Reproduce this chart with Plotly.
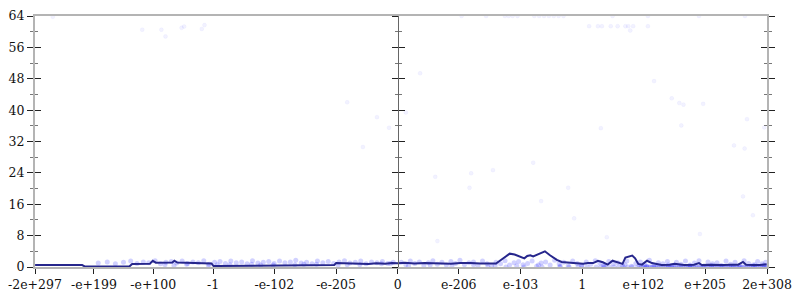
import math
import plotly.graph_objects as go

# ---------------- data ----------------
# x values are float ordinals (bit-pattern order / 2^52), y is bits of error
tick_values = [-2e297, -1e199, -1e100, -1.0, -1e-102, -1e-205, 0.0,
               1e-206, 1e-103, 1.0, 1e102, 1e205, 1.7976931348623157e308]
tick_labels = ["-2e+297", "-e+199", "-e+100", "-1", "-e-102", "-e-205", "0",
               "e-206", "e-103", "1", "e+102", "e+205", "2e+308"]

# average error line
line_x = [-2010, -1749, -1733, -1488, -1472, -1374, -1358, -1341, -1249, -1238,
          -1222, -1129, -1048, -1032, -1021, -858, -695, -532, -352, -341,
          -287, -249, -205, -162, -118, -70, -32, 1, 39, 93,
          148, 229, 295, 349, 403, 458, 512, 545, 572, 599,
          621, 648, 670, 686, 702, 718, 735, 751, 773, 789,
          816, 844, 865, 882, 909, 941, 974, 1028, 1055, 1083,
          1110, 1137, 1164, 1191, 1219, 1246, 1262, 1284, 1300, 1316,
          1333, 1354, 1382, 1409, 1436, 1463, 1507, 1534, 1588, 1642,
          1670, 1686, 1724, 1767, 1806, 1844, 1887, 1914, 1931, 1969,
          2007, 2045]
line_y = [0.48, 0.48, 0.1, 0.1, 0.75, 0.8, 1.6, 1.1, 1.15, 1.6,
          1.15, 1.1, 1.05, 0.9, 0.25, 0.3, 0.35, 0.4, 0.5, 1.0,
          0.95, 0.75, 0.9, 0.75, 0.95, 0.8, 1.0, 0.95, 1.1, 0.9,
          1.05, 0.95, 0.85, 1.0, 1.05, 0.9, 1.0, 0.9, 1.8, 2.6,
          3.4, 3.2, 2.8, 2.6, 2.2, 2.8, 3.0, 2.7, 3.2, 3.4,
          4.0, 3.0, 2.3, 1.8, 1.3, 1.1, 1.0, 0.8, 1.0, 1.0,
          1.6, 1.2, 0.6, 1.6, 1.1, 0.8, 2.4, 2.8, 2.9, 2.2,
          0.8, 0.6, 1.6, 1.0, 0.7, 0.5, 0.6, 0.8, 0.5, 0.6,
          1.0, 0.5, 0.6, 0.5, 0.5, 0.6, 0.6, 1.3, 0.6, 0.5,
          0.5, 0.7]

# sparse high-error samples
outlier_x = [-1912, -1416, -1310, -1287, -1198, -1184, -1086, -1071, -280, -115,
             -48, -193, 354, 490, 594, 615, 637, 664, 757, 784,
             811, 838, 865, 892, 919, 1191, 1387, 1670, 1925, 1061,
             1110, 1132, 1181, 1219, 1262, 1278, 1305, 1387, 1289, 124,
             45, 1421, 1519, 1561, 1584, 1693, 1126, 1572, 1936, 2032,
             1864, 1923, 208, 220, 751, 407, 528, 398, 945, 795,
             978, 1159, 1675, 1914, 1969]
outlier_y = [63.8, 60.5, 60.5, 58.8, 61.0, 61.3, 60.7, 61.7, 42.0, 38.2,
             35.5, 30.6, 64.0, 64.0, 64.0, 64.0, 64.0, 64.0, 64.0, 64.0,
             64.0, 64.0, 64.0, 64.0, 64.0, 64.0, 64.0, 64.0, 64.0, 61.4,
             61.4, 61.4, 61.4, 61.4, 61.4, 61.4, 61.4, 61.4, 60.3, 49.4,
             39.4, 47.4, 43.0, 41.8, 41.4, 41.6, 35.4, 36.1, 37.7, 35.6,
             31.0, 30.2, 23.0, 6.6, 26.6, 23.9, 24.7, 20.2, 20.2, 16.8,
             12.4, 7.6, 8.4, 18.0, 13.2]

# dense low-error samples
band_x = [-1660, -1610, -1565, -1520, -1480, -1445, -1410, -1380, -1345, -1315,
          -1285, -1255, -1225, -1195, -1165, -1135, -1105, -1075, -1045, -1015,
          -985, -955, -925, -895, -865, -835, -805, -775, -745, -715,
          -685, -655, -625, -595, -565, -535, -505, -475, -445, -415,
          -385, -355, -325, -295, -265, -235, -205, -175, -145, -115,
          -85, -55, -25, -1290, -1170, -1050, -930, -810, -690, -570,
          -450, -330, -210, -90, -1240, -1000, -760, -520, -280, -40,
          20, 45, 70, 95, 120, 145, 170, 195, 220, 245,
          270, 295, 320, 345, 370, 395, 420, 445, 470, 495,
          520, 545, 570, 595, 620, 645, 670, 695, 720, 745,
          770, 795, 820, 845, 870, 895, 920, 945, 970, 995,
          1020, 1045, 1070, 1095, 1120, 1145, 1170, 1195, 1220, 1245,
          1270, 1295, 1320, 1345, 1370, 1395, 1420, 1445, 1470, 1495,
          1520, 1545, 1570, 1595, 1620, 1645, 1670, 1695, 1720, 1745,
          1770, 1795, 1820, 1845, 1870, 1895, 1920, 1945, 1970, 1995,
          2020, 2040, 60, 180, 300, 420, 540, 660, 780, 900,
          1020, 1140, 1260, 1380, 1500, 1620, 1740, 1860, 1980, 2030,
          1330, 1350, 1370, 1390, 1410, 1430, 1450, 1470, 1490, 1510,
          1530, 1550, 1570, 1590, 1610, 1630, 1650, 1670, 1690, 1710,
          1730, 1750, 1770, 1790, 1810, 1830, 1850, 1870, 1890, 1910,
          1930, 1950, 1970, 1990, 2010, 2030, 2045, 900, 950, 1000,
          1050, 1100, 1150, 1200, 1250, 1300, 600, 700, 800, 500,
          1340, 1360, 1380, 1400, 1420, 1440, 1460, 1480, 1500, 1520,
          1540, 1560, 1580, 1600, 1620, 1640, 1660, 1680, 1700, 1720,
          1740, 1760, 1780, 1800, 1820, 1840, 1860, 1880, 1900, 1920,
          1940, 1960, 1980, 2000, 2020, 2040, 1125, 1175, 1225, 1275]
band_y = [1.0, 1.3, 0.8, 1.2, 1.5, 0.9, 1.3, 1.1, 1.6, 0.8,
          1.2, 1.4, 1.0, 1.5, 0.9, 1.3, 1.1, 1.6, 0.7, 1.2,
          1.4, 0.9, 1.5, 1.1, 1.3, 0.8, 1.6, 1.0, 1.2, 1.4,
          0.9, 1.5, 1.1, 1.3, 1.7, 1.0, 1.2, 0.8, 1.5, 1.1,
          1.4, 0.9, 1.3, 1.6, 1.0, 1.2, 1.5, 0.8, 1.3, 1.1,
          1.4, 0.9, 1.2, 0.6, 0.7, 0.5, 0.6, 0.7, 0.5, 0.6,
          0.7, 0.5, 0.6, 0.8, 0.4, 0.6, 0.5, 0.7, 0.6, 0.9,
          1.2, 0.6, 1.5, 0.9, 1.3, 0.4, 1.1, 1.6, 0.7, 1.2,
          0.5, 1.4, 0.9, 1.7, 0.6, 1.1, 1.3, 0.4, 1.5, 0.8,
          0.3, 1.2, 0.8, 1.6, 0.5, 1.1, 1.4, 0.6, 0.9, 1.5,
          0.2, 1.0, 1.3, 0.5, 1.7, 0.8, 1.2, 0.3, 1.5, 0.9,
          0.4, 1.3, 0.7, 1.6, 1.0, 0.3, 1.4, 0.8, 1.1, 0.5,
          1.5, 0.2, 0.9, 1.3, 0.6, 1.7, 0.4, 1.1, 0.8, 1.4,
          0.3, 1.2, 0.7, 1.5, 0.5, 1.0, 1.6, 0.2, 1.3, 0.8,
          1.1, 0.4, 1.5, 0.7, 1.2, 0.3, 1.6, 0.9, 0.5, 1.4,
          0.8, 1.2, 0.3, 0.5, 0.2, 0.6, 0.4, 0.3, 0.5, 0.2,
          0.4, 0.3, 0.6, 0.2, 0.5, 0.3, 0.4, 0.2, 0.6, 0.3,
          0.0, 0.0, 0.0, 0.0, 0.0, 0.0, 0.0, 0.0, 0.0, 0.0,
          0.0, 0.0, 0.0, 0.0, 0.0, 0.0, 0.0, 0.0, 0.0, 0.0,
          0.0, 0.0, 0.0, 0.0, 0.0, 0.0, 0.0, 0.0, 0.0, 0.0,
          0.0, 0.0, 0.0, 0.0, 0.0, 0.0, 0.0, 0.0, 0.0, 0.0,
          0.0, 0.0, 0.0, 0.0, 0.0, 0.0, 0.0, 0.0, 0.0, 0.0,
          0.0, 0.0, 0.0, 0.0, 0.0, 0.0, 0.0, 0.0, 0.0, 0.0,
          0.0, 0.0, 0.0, 0.0, 0.0, 0.0, 0.0, 0.0, 0.0, 0.0,
          0.0, 0.0, 0.0, 0.0, 0.0, 0.0, 0.0, 0.0, 0.0, 0.0,
          0.0, 0.0, 0.0, 0.0, 0.0, 0.0, 0.0, 0.0, 0.0, 0.0]


def ordinal(v):
    """Position of a double in bit-pattern order, in units of 2^52."""
    if v == 0:
        return 0.0
    m, e = math.frexp(abs(v))
    o = (e - 1 + 1023) + (2 * m - 1)
    return o if v > 0 else -o


tick_pos = [ordinal(v) for v in tick_values]
xmin, xmax = tick_pos[0], tick_pos[-1]
zero_frac = (ordinal(0.0) - xmin) / (xmax - xmin)

AXIS_GREY = "#b4b4b4"
TICK = "#222222"
MINOR = "#777777"

fig = go.Figure()
fig.add_trace(go.Scatter(x=band_x, y=band_y, mode="markers",
                         marker=dict(size=5, color="rgba(0,0,255,0.18)", line=dict(width=0)),
                         hoverinfo="skip"))
fig.add_trace(go.Scatter(x=outlier_x, y=outlier_y, mode="markers",
                         marker=dict(size=4, color="rgba(0,0,255,0.05)",
                                     line=dict(width=0.6, color="rgba(0,0,255,0.06)")),
                         hoverinfo="skip"))
fig.add_trace(go.Scatter(x=line_x, y=line_y, mode="lines",
                         line=dict(color="#26268c", width=2), hoverinfo="skip"))
# empty traces so every decorative axis is registered and drawn
for ya in ["y2", "y3", "y4", "y5", "y6"]:
    fig.add_trace(go.Scatter(x=[None], y=[None], yaxis=ya, mode="markers",
                             hoverinfo="skip", showlegend=False))

ycommon = dict(range=[0, 64], tick0=0, dtick=8, showgrid=False, zeroline=False,
               tickcolor=TICK, tickwidth=1, ticklen=6, fixedrange=True)
minor_out = dict(dtick=4, ticks="outside", ticklen=3, tickcolor=MINOR, tickwidth=1)
minor_in = dict(dtick=4, ticks="inside", ticklen=3, tickcolor=MINOR, tickwidth=1)

fig.update_layout(
    width=800, height=300,
    margin=dict(l=28, r=26, t=8, b=26, pad=0),
    paper_bgcolor="white", plot_bgcolor="white",
    showlegend=False,
    font=dict(family="DejaVu Serif", size=12.5, color="#111111"),
    xaxis=dict(range=[xmin, xmax], tickvals=tick_pos, ticktext=tick_labels,
               ticks="outside", ticklen=5, tickcolor=TICK, tickwidth=1,
               showline=True, linecolor=AXIS_GREY, linewidth=2, mirror=True,
               showgrid=False, zeroline=False, fixedrange=True),
    xaxis2=dict(range=[xmin, xmax], overlaying="x", anchor="y", side="bottom",
                tickvals=tick_pos, ticks="inside", ticklen=5, tickcolor=TICK,
                showticklabels=False, showline=False, showgrid=False,
                zeroline=False, fixedrange=True),
    yaxis=dict(**ycommon, ticks="outside", minor=minor_out, showline=True,
               linecolor=AXIS_GREY, linewidth=2, side="left"),
    yaxis2=dict(**ycommon, overlaying="y", anchor="x", side="left", ticks="inside",
                minor=minor_in, showticklabels=False, showline=False),
    yaxis3=dict(**ycommon, overlaying="y", anchor="free", position=zero_frac,
                side="left", ticks="outside", minor=minor_out,
                showticklabels=False, showline=True, linecolor="#666666", linewidth=1),
    yaxis4=dict(**ycommon, overlaying="y", anchor="free", position=zero_frac,
                side="left", ticks="inside", minor=minor_in,
                showticklabels=False, showline=False),
    yaxis5=dict(**ycommon, overlaying="y", anchor="x", side="right", ticks="outside",
                minor=minor_out, showticklabels=False, showline=True,
                linecolor=AXIS_GREY, linewidth=2),
    yaxis6=dict(**ycommon, overlaying="y", anchor="x", side="right", ticks="inside",
                minor=minor_in, showticklabels=False, showline=False),
)

fig.write_html("out.html")
